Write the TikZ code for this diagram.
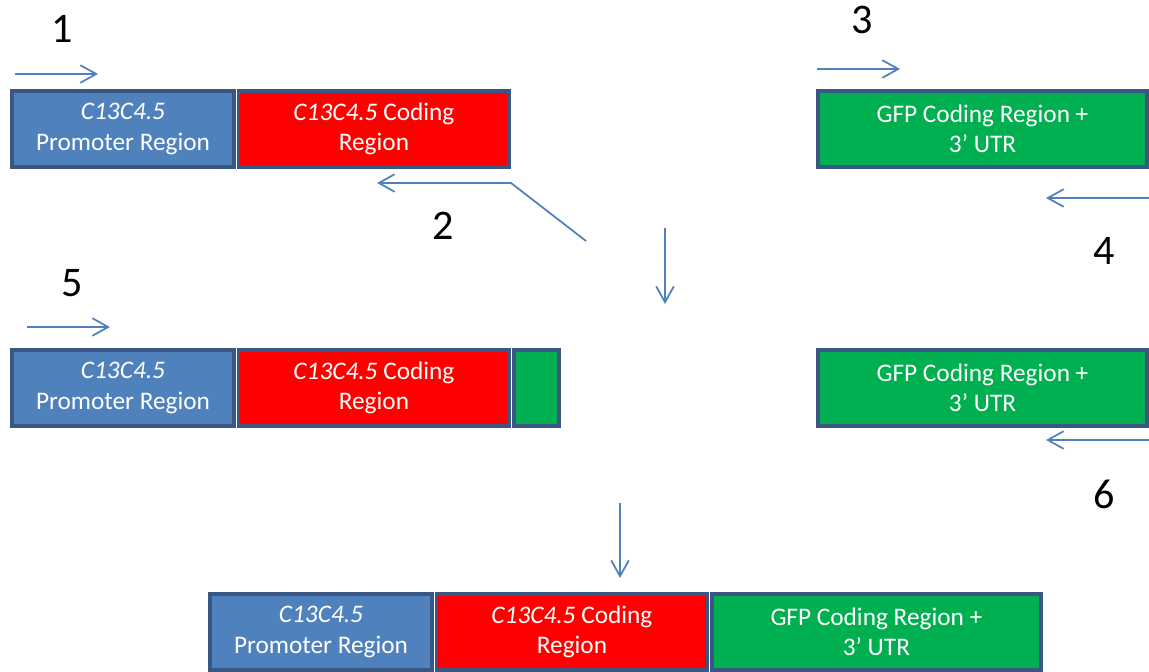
\documentclass[tikz,border=0pt]{standalone}
\usepackage{fontspec}
\setmainfont{Carlito}
\usepackage{tikz}
\usetikzlibrary{positioning,arrows.meta}

\definecolor{edgeblue}{RGB}{58,86,130}
\definecolor{promblue}{RGB}{79,129,189}
\definecolor{codered}{RGB}{255,0,0}
\definecolor{gfpgreen}{RGB}{0,176,80}

\begin{document}
\begin{tikzpicture}[x=0.02cm, y=-0.02cm, node distance=0.09cm,
    box/.style={rectangle, draw=edgeblue, line width=2.2pt, outer sep=0pt, minimum height=1.52cm, text=white, align=center, font=\fontsize{14.4}{17.4}\selectfont},
    promoter/.style={box, fill=promblue, minimum width=4.44cm},
    coding/.style={box, fill=codered, minimum width=5.42cm},
    gfp/.style={box, fill=gfpgreen, minimum width=6.58cm},
    stub/.style={box, fill=gfpgreen, minimum width=0.9cm},
    primer/.style={draw=promblue, line width=1pt, -{Straight Barb[length=9pt, width=10pt, line width=1pt]}},
    num/.style={font=\fontsize{24}{28}\selectfont}]
    \useasboundingbox (0,0) rectangle (1149,672);
    % Nodes
    \node[promoter] (P1) at (123,129) {\textit{C13C4.5}\\Promoter Region};
    \node[coding, right=of P1] (C1) {\textit{C13C4.5} Coding\\Region};
    \node[gfp] (G1) at (982.5,129) {GFP Coding Region +\\3’ UTR};
    \node[promoter] (P2) at (123,388) {\textit{C13C4.5}\\Promoter Region};
    \node[coding, right=of P2] (C2) {\textit{C13C4.5} Coding\\Region};
    \node[stub, right=of C2] (S2) {};
    \node[gfp] (G2) at (982.5,388) {GFP Coding Region +\\3’ UTR};
    \node[promoter] (P3) at (321,632) {\textit{C13C4.5}\\Promoter Region};
    \node[coding, right=of P3] (C3) {\textit{C13C4.5} Coding\\Region};
    \node[gfp, right=of C3] (G3) {GFP Coding Region +\\3’ UTR};
    % Labels
    \node[num] (n1) at (62,29) {1};
    \node[num] (n2) at (443,226) {2};
    \node[num] (n3) at (862,20) {3};
    \node[num] (n4) at (1104,251) {4};
    \node[num] (n5) at (72,283) {5};
    \node[num] (n6) at (1104,494) {6};
    % Primers
    \coordinate (a1) at (15,74);   \coordinate (b1) at (98,74);
    \coordinate (a2) at (586,241); \coordinate (k2) at (511,183); \coordinate (b2) at (377,183);
    \coordinate (a3) at (817,69);  \coordinate (b3) at (900,69);
    \coordinate (a4) at (1149,198); \coordinate (b4) at (1046,198);
    \coordinate (a5) at (27,327);  \coordinate (b5) at (110,327);
    \coordinate (a6) at (1149,440); \coordinate (b6) at (1046,440);
    \draw[primer] (a1) -- (b1);
    \draw[primer] (a2) -- (k2) -- (b2);
    \draw[primer] (a3) -- (b3);
    \draw[primer] (a4) -- (b4);
    \draw[primer] (a5) -- (b5);
    \draw[primer] (a6) -- (b6);
    % Steps
    \coordinate (d1) at (665,228); \coordinate (e1) at (665,304);
    \coordinate (d2) at (620,503); \coordinate (e2) at (620,578);
    \draw[primer] (d1) -- (e1);
    \draw[primer] (d2) -- (e2);
\end{tikzpicture}
\end{document}
